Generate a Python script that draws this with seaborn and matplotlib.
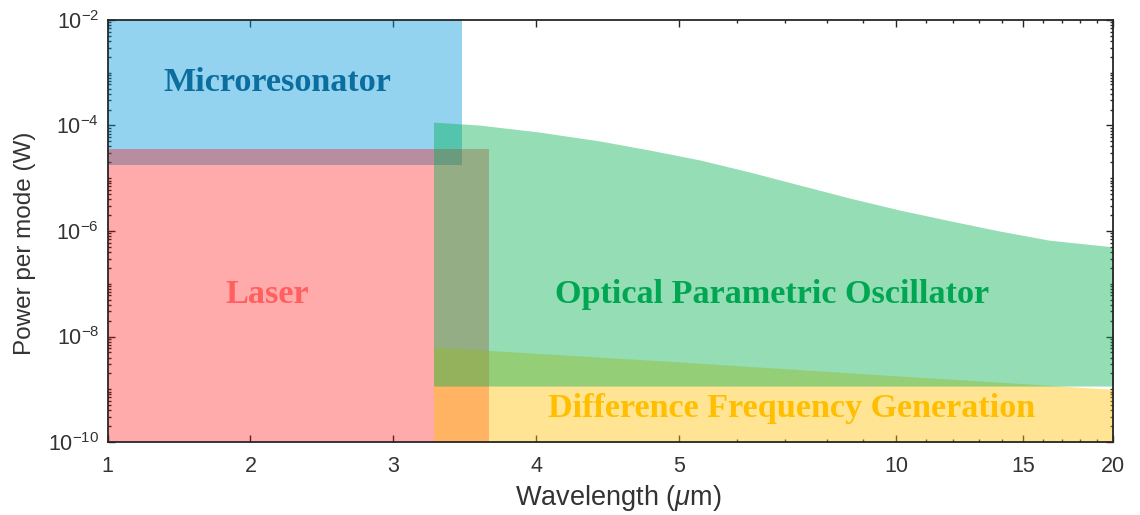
import numpy as np
import matplotlib
matplotlib.use("Agg")
import matplotlib.pyplot as plt
import seaborn as sns
from matplotlib.ticker import FixedLocator, LogLocator, LogFormatterSciNotation, NullFormatter, FixedFormatter

# ---- data -------------------------------------------------------------
micro_wavelength = [1.0, 3.48]
micro_power = [1.8e-5, 1e-2]          # lower, upper

laser_wavelength = [1.0, 3.67]
laser_power = [1e-10, 3.6e-5]         # lower, upper

opo_wavelength = [3.28, 3.6, 4.02, 4.44, 4.79, 5.34, 6.26, 7.35, 8.62, 10.1,
                  11.9, 13.9, 16.3, 20.0]
opo_upper = [1.16e-4, 1.02e-4, 7.5e-5, 5.1e-5, 3.43e-5, 2.22e-5, 1.31e-5, 7.4e-6,
             4.2e-6, 2.5e-6, 1.55e-6, 1.0e-6, 6.7e-7, 5.0e-7]
opo_lower = 1.15e-9

dfg_wavelength = [3.28, 5.0, 10.0, 20.0]
dfg_upper = [6.3e-9, 3.3e-9, 1.8e-9, 1.0e-9]
dfg_lower = 1e-10

x_major = [1, 2, 3, 4, 5, 10, 15, 20]
x_minor = [6, 7, 8, 9, 11, 12, 13, 14, 16, 17, 18, 19]

# ---- wavelength axis: linear up to 5 um, logarithmic beyond ------------
K = 313.0 / 143.0


def fwd(x):
    x = np.asarray(x, dtype=float)
    with np.errstate(divide="ignore", invalid="ignore"):
        lg = 4.0 + K * np.log(np.clip(x, 1e-12, None) / 5.0)
    return np.where(x <= 5.0, x - 1.0, lg)


def inv(u):
    u = np.asarray(u, dtype=float)
    with np.errstate(over="ignore"):
        ex = 5.0 * np.exp((u - 4.0) / K)
    return np.where(u <= 4.0, u + 1.0, ex)


sns.set_theme(style="ticks")
plt.rcParams["font.family"] = ["Liberation Sans", "DejaVu Sans"]
plt.rcParams["mathtext.fontset"] = "custom"
plt.rcParams["mathtext.rm"] = "Liberation Sans"
plt.rcParams["mathtext.it"] = "Liberation Sans:italic"

fig = plt.figure(figsize=(11.4, 5.15), dpi=100)
ax = fig.add_axes([0.0943, 0.1417, 0.9766 - 0.0943, 0.9612 - 0.1417])
ax.set_xscale("function", functions=(fwd, inv))
ax.set_yscale("log")

blue = (0 / 255, 150 / 255, 219 / 255)
red = (1.0, 0.0, 0.0)
yellow = (1.0, 192 / 255, 0.0)
green = (0.0, 176 / 255, 80 / 255)

ax.fill_between(micro_wavelength, micro_power[0], micro_power[1],
                color=blue, alpha=0.42, linewidth=0, zorder=1)
ax.fill_between(laser_wavelength, laser_power[0], laser_power[1],
                color=red, alpha=0.33, linewidth=0, zorder=1.1)
ax.fill_between(dfg_wavelength, dfg_lower, dfg_upper,
                color=yellow, alpha=0.42, linewidth=0, zorder=1.2)
ax.fill_between(opo_wavelength, opo_lower, opo_upper,
                color=green, alpha=0.42, linewidth=0, zorder=1.3)

ax.set_xlim(1, 20)
ax.set_ylim(1e-10, 1e-2)

ax.xaxis.set_major_locator(FixedLocator(x_major))
ax.xaxis.set_major_formatter(FixedFormatter([str(v) for v in x_major]))
ax.xaxis.set_minor_locator(FixedLocator(x_minor))
ax.xaxis.set_minor_formatter(NullFormatter())

ax.yaxis.set_major_locator(FixedLocator([1e-10, 1e-8, 1e-6, 1e-4, 1e-2]))
ax.yaxis.set_major_formatter(LogFormatterSciNotation())
ax.yaxis.set_minor_locator(LogLocator(base=10, subs=np.arange(1, 10), numticks=100))
ax.yaxis.set_minor_formatter(NullFormatter())

edge = "#262626"
for s in ax.spines.values():
    s.set_color(edge)
    s.set_linewidth(1.3)
ax.tick_params(which="both", direction="in", top=True, right=True, color=edge,
               labelcolor="#333333", width=1.0)
ax.tick_params(which="major", length=5, labelsize=15.5)
ax.tick_params(axis="x", which="major", pad=10)
ax.tick_params(axis="y", which="major", pad=6)
ax.tick_params(which="minor", length=2.5)

ax.set_xlabel(r"Wavelength ($\mu$m)", fontsize=19.5, color="#333333")
ax.set_ylabel("Power per mode (W)", fontsize=17.5, color="#333333")
ax.xaxis.set_label_coords(0.508, -0.097)
ax.yaxis.set_label_coords(-0.071, 0.472)

serif = ["Liberation Serif", "DejaVu Serif"]
fs = 24.6
ax.text(2.185, 6.6e-4, "Microresonator", family=serif, weight="bold", fontsize=fs,
        color="#0B6E9F", ha="center", va="center", zorder=5)
ax.text(2.12, 6.2e-8, "Laser", family=serif, weight="bold", fontsize=fs,
        color="#FF5F5F", ha="center", va="center", zorder=5)
ax.text(6.72, 6.2e-8, "Optical Parametric Oscillator", family=serif, weight="bold",
        fontsize=fs, color="#00A651", ha="center", va="center", zorder=5)
ax.text(7.16, 4.3e-10, "Difference Frequency Generation", family=serif, weight="bold",
        fontsize=fs, color="#FFBF00", ha="center", va="center", zorder=5)

fig.savefig("out.png", dpi=100, facecolor="white")
